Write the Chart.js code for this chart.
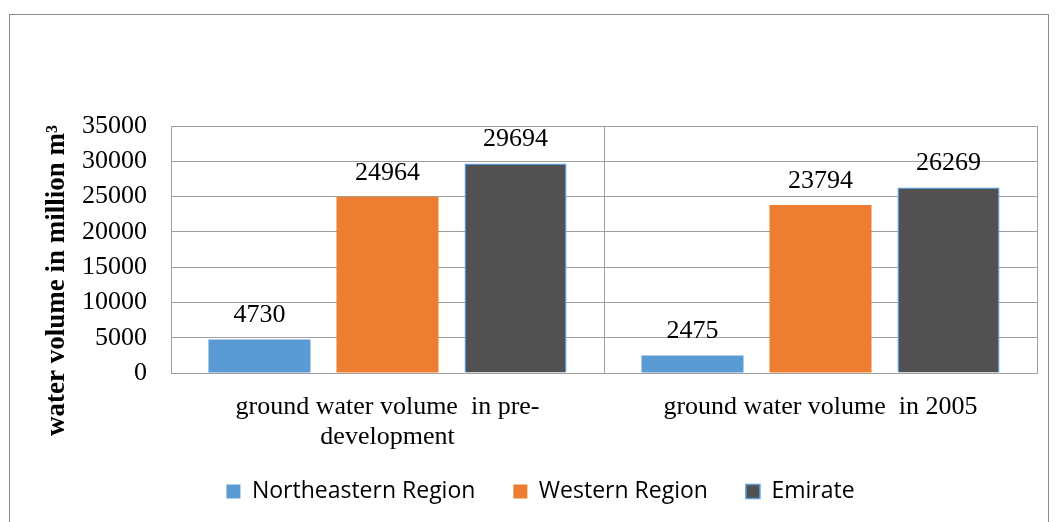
<!DOCTYPE html>
<html>
<head>
<meta charset="utf-8">
<script src="https://cdn.jsdelivr.net/npm/chart.js@4"></script>
<style>
  html, body { margin: 0; padding: 0; background: #fff; }
  #wrap { position: relative; width: 1056px; height: 522px; overflow: hidden; }
  #frame { position: absolute; left: 9px; top: 14px; width: 1038px; height: 520px; border: 1px solid #8c8c8c; }
  canvas { position: absolute; left: 0; top: 0; }
</style>
</head>
<body>
<div id="wrap">
  <div id="frame"></div>
  <canvas id="myChart" width="1056" height="522"></canvas>
</div>
<script>
const categories = [["ground water volume  in pre-", "development"], "ground water volume  in 2005"];
const seriesNames = ["Northeastern Region", "Western Region", "Emirate"];
const northeastern = [4730, 2475];
const western = [24964, 23794];
const emirate = [29694, 26269];
const yMax = 35000;
const yStep = 5000;
const yTitle = "water volume in million m³";

// value above each bar
const valueLabels = {
  id: "valueLabels",
  afterDatasetsDraw(chart) {
    const ctx = chart.ctx;
    ctx.save();
    ctx.font = "26px 'Liberation Serif'";
    ctx.fillStyle = "#000";
    ctx.textAlign = "center";
    ctx.textBaseline = "middle";
    chart.data.datasets.forEach((ds, i) => {
      chart.getDatasetMeta(i).data.forEach((bar, j) => {
        ctx.fillText(ds.data[j], bar.x, bar.y - 24);
      });
    });
    ctx.restore();
  }
};

// rotated y title, a bit lower than the plot centre like the original
const yTitlePlugin = {
  id: "yTitlePlugin",
  afterDraw(chart) {
    const ctx = chart.ctx;
    const area = chart.chartArea;
    ctx.save();
    ctx.translate(57, (area.top + area.bottom) / 2 + 31);
    ctx.rotate(-Math.PI / 2);
    ctx.font = "bold 27px 'Liberation Serif'";
    ctx.fillStyle = "#000";
    ctx.textAlign = "center";
    ctx.textBaseline = "middle";
    ctx.fillText(yTitle, 0, 0);
    ctx.restore();
  }
};

// legend needs wide gaps between items but sits close under the axis labels,
// and is centred a little right of the canvas centre
const legendNudge = {
  id: "legendNudge",
  afterLayout(chart) {
    const lg = chart.legend;
    if (lg) {
      lg.top -= 8;
      lg.bottom -= 8;
      lg.left += 22;
      lg.right += 22;
    }
  }
};

const ctx = document.getElementById("myChart");

new Chart(ctx, {
  type: "bar",
  data: {
    labels: categories,
    datasets: [
      {
        label: seriesNames[0],
        data: northeastern,
        backgroundColor: "#5b9bd5",
        borderWidth: 0,
      },
      {
        label: seriesNames[1],
        data: western,
        backgroundColor: "#ed7d31",
        borderWidth: 0,
      },
      {
        label: seriesNames[2],
        data: emirate,
        backgroundColor: "#515151",
        borderColor: "#5b9bd5",
        borderWidth: 1.5,
      },
    ],
  },
  options: {
    responsive: false,
    animation: false,
    categoryPercentage: 0.887,
    barPercentage: 0.797,
    layout: {
      padding: { left: 0, right: 19, top: 126, bottom: 1 },
    },
    plugins: {
      tooltip: { enabled: false },
      legend: {
        position: "bottom",
        labels: {
          boxWidth: 14,
          boxHeight: 14,
          padding: 38,
          color: "#000",
          font: { family: "Open Sans", size: 23 },
        },
      },
    },
    scales: {
      x: {
        grid: { display: true, offset: true, color: "#a0a0a0", drawTicks: false },
        border: { display: true, color: "#a0a0a0" },
        ticks: {
          color: "#000",
          padding: 19,
          maxRotation: 0,
          font: { family: "Liberation Serif", size: 26, lineHeight: 1.15 },
        },
        afterFit(scale) {
          scale.height = 77;
        },
      },
      y: {
        min: 0,
        max: yMax,
        grid: { color: "#a0a0a0", drawTicks: false },
        border: { display: true, color: "#a0a0a0" },
        ticks: {
          stepSize: yStep,
          color: "#000",
          padding: 24,
          font: { family: "Liberation Serif", size: 26 },
          callback: (v) => String(v),
        },
        afterFit(scale) {
          scale.width = 171;
        },
      },
    },
  },
  plugins: [valueLabels, yTitlePlugin, legendNudge],
});
</script>
</body>
</html>
